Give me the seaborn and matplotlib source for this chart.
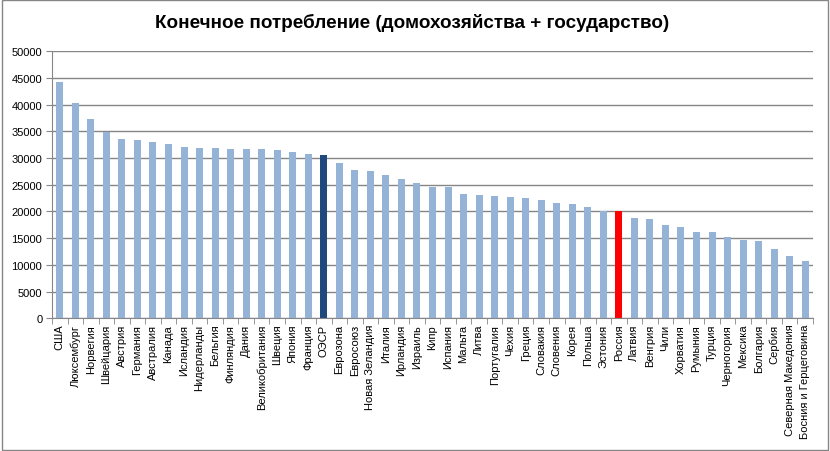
import pandas as pd
import seaborn as sns
import matplotlib.pyplot as plt
from matplotlib.ticker import FixedLocator

countries = [
    'США', 'Люксембург', 'Норвегия', 'Швейцария', 'Австрия', 'Германия',
    'Австралия', 'Канада', 'Исландия', 'Нидерланды', 'Бельгия', 'Финляндия',
    'Дания', 'Великобритания', 'Швеция', 'Япония', 'Франция', 'ОЭСР',
    'Еврозона', 'Евросоюз', 'Новая Зеландия', 'Италия', 'Ирландия', 'Израиль',
    'Кипр', 'Испания', 'Мальта', 'Литва', 'Португалия', 'Чехия', 'Греция',
    'Словакия', 'Словения', 'Корея', 'Польша', 'Эстония', 'Россия', 'Латвия',
    'Венгрия', 'Чили', 'Хорватия', 'Румыния', 'Турция', 'Черногория',
    'Мексика', 'Болгария', 'Сербия', 'Северная Македония',
    'Босния и Герцеговина',
]
consumption = [
    44300, 40400, 37300, 34950, 33600, 33400, 33000, 32600, 32100, 31900,
    31900, 31700, 31700, 31700, 31500, 31100, 30800, 30600, 29150, 27800,
    27600, 26800, 26100, 25300, 24600, 24600, 23300, 23100, 22900, 22700,
    22500, 22200, 21600, 21400, 20850, 20000, 20000, 18800, 18600, 17500,
    17100, 16200, 16200, 15200, 14700, 14500, 13000, 11700, 10700,
]

data = pd.DataFrame({'country': countries, 'value': consumption})

palette = {c: '#95B3D7' for c in countries}
palette['ОЭСР'] = '#1F497D'
palette['Россия'] = '#FF0000'

sns.set_style('white')
plt.rcParams['font.family'] = ['Liberation Sans', 'DejaVu Sans']
plt.rcParams['text.color'] = 'black'

fig = plt.figure(figsize=(8.3, 4.52), dpi=100)
ax = fig.add_axes([0.0627, 0.2936, 0.9168, 0.5907])

sns.barplot(data=data, x='country', y='value', hue='country', palette=palette,
            width=0.45, legend=False, saturation=1, linewidth=0, ax=ax)

ax.set_xlim(-0.5, len(countries) - 0.5)
ax.set_ylim(0, 50000)
ax.set_yticks(range(0, 50001, 5000))
ax.yaxis.grid(True, color='#868686', linewidth=1)
ax.set_axisbelow(True)

ax.set_xlabel('')
ax.set_ylabel('')
ax.tick_params(axis='y', labelsize=8, length=4, color='#868686', labelcolor='black',
               pad=3, left=True)
ax.tick_params(axis='x', labelsize=8, length=0, rotation=90, pad=4, labelcolor='black')
ax.xaxis.set_minor_locator(FixedLocator([i - 0.5 for i in range(len(countries) + 1)]))
ax.tick_params(axis='x', which='minor', length=4, color='#868686', bottom=True)

for side in ['top', 'right']:
    ax.spines[side].set_visible(False)
for side in ['left', 'bottom']:
    ax.spines[side].set_color('#868686')

fig.text(0.497, 0.950, 'Конечное потребление (домохозяйства + государство)',
         ha='center', va='center', fontsize=13.6, fontweight='bold', color='black')

fig.patches.append(plt.Rectangle((0.002, 0.002), 0.996, 0.996, transform=fig.transFigure,
                                 fill=False, edgecolor='#868686', linewidth=1))

fig.savefig('out.png', dpi=100)
